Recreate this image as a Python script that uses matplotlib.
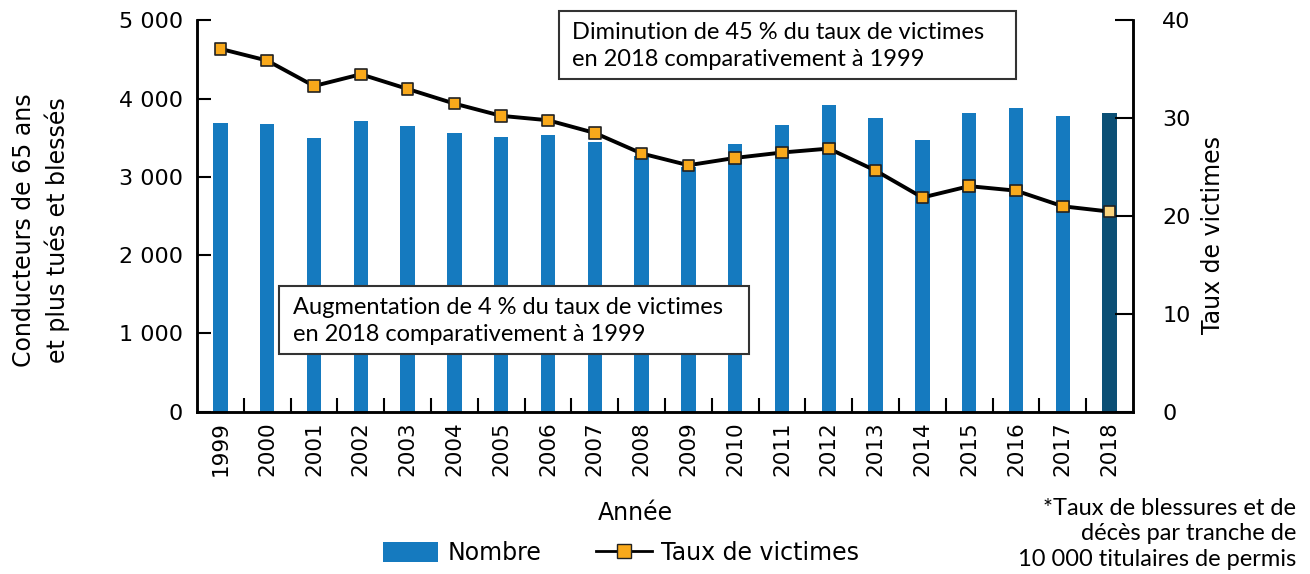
import numpy as np
import matplotlib.pyplot as plt
from matplotlib.patches import Patch, Rectangle
from matplotlib.lines import Line2D

years = ['1999', '2000', '2001', '2002', '2003', '2004', '2005', '2006', '2007', '2008',
         '2009', '2010', '2011', '2012', '2013', '2014', '2015', '2016', '2017', '2018']
nombre = [3687, 3674, 3495, 3713, 3649, 3559, 3508, 3534, 3444, 3270,
          3130, 3419, 3662, 3917, 3751, 3470, 3815, 3879, 3777, 3815]
taux = [37.1, 35.9, 33.3, 34.5, 33.0, 31.5, 30.25, 29.8, 28.5, 26.4,
        25.2, 25.95, 26.5, 26.9, 24.65, 21.9, 23.06, 22.6, 21.0, 20.46]

blue = '#157abf'
dark = '#0b4f75'
orange = '#f9a91b'
light_orange = '#f9d47e'

lab_font = 'DejaVu Sans'
note_font = 'Lato'

W, H = 1310, 574
fig = plt.figure(figsize=(W / 100, H / 100), dpi=100)
ax = fig.add_axes([0.1504, 0.2828, 0.7145, 0.6815])
ax2 = ax.twinx()

x = np.arange(len(years))
cols = [blue] * (len(years) - 1) + [dark]
ax.bar(x, nombre, width=0.31, color=cols, zorder=2)

ax2.plot(x, taux, color='black', lw=2.8, zorder=3)
mcols = [orange] * (len(years) - 1) + [light_orange]
ax2.scatter(x, taux, marker='s', s=68, c=mcols, edgecolors='#222222', linewidths=1.2, zorder=4)

ax.set_xlim(-0.5, len(years) - 0.5)
ax.set_ylim(0, 5000)
ax2.set_ylim(0, 40)

ax.set_yticks([0, 1000, 2000, 3000, 4000, 5000])
ax.set_yticklabels(['0', '1 000', '2 000', '3 000', '4 000', '5 000'], fontsize=16, family=lab_font)
ax2.set_yticks([0, 10, 20, 30, 40])
ax2.set_yticklabels(['0', '10', '20', '30', '40'], fontsize=16, family=lab_font)

ax.set_xticks(x)
ax.set_xticklabels(years, rotation=90, fontsize=15.5, family=lab_font)
ax.set_xticks(np.arange(0.5, len(years) - 1, 1), minor=True)
ax.tick_params(axis='x', which='major', length=0, pad=7)
ax.tick_params(axis='x', which='minor', direction='in', length=10, width=1.5)
ax.tick_params(axis='y', direction='in', length=10, width=1.5, pad=10)
ax2.tick_params(axis='y', direction='in', length=13, width=1.5, pad=21)

for a in (ax, ax2):
    a.spines['top'].set_visible(False)
    for s in ('left', 'right', 'bottom'):
        a.spines[s].set_linewidth(1.8)

ax.set_ylabel('Conducteurs de 65 ans\net plus tués et blessés', fontsize=17, family=lab_font,
              va='center', ha='center', linespacing=1.4)
ax.yaxis.set_label_coords((41 - 197) / 936, (411.7 - 230) / 391)
ax2.set_ylabel('Taux de victimes', fontsize=17, family=lab_font, va='center', ha='center')
ax2.yaxis.set_label_coords((1213 - 197) / 936, (411.7 - 235) / 391)
ax.set_xlabel('Année', fontsize=17, family=lab_font, va='center')
ax.xaxis.set_label_coords((635 - 197) / 936, (411.7 - 513) / 391)

# annotation boxes
for (x0, y0, x1, y1) in [(559, 11, 1016, 79), (279, 286, 749, 354)]:
    fig.add_artist(Rectangle((x0 / W, 1 - y1 / H), (x1 - x0) / W, (y1 - y0) / H,
                             transform=fig.transFigure, facecolor='white', edgecolor='#333333',
                             linewidth=1.5, zorder=5))
fig.text(572 / W, 1 - 46 / H, 'Diminution de 45 % du taux de victimes\nen 2018 comparativement à 1999',
         fontsize=17, family=note_font, va='center', ha='left', linespacing=1.3, zorder=6)
fig.text(293 / W, 1 - 321 / H, 'Augmentation de 4 % du taux de victimes\nen 2018 comparativement à 1999',
         fontsize=17, family=note_font, va='center', ha='left', linespacing=1.3, zorder=6)

fig.text(1296 / W, 1 - 534 / H, '*Taux de blessures et de\ndécès par tranche de\n10 000 titulaires de permis',
         fontsize=17, family=note_font, ha='right', va='center', linespacing=1.25)

handles = [Patch(facecolor=blue, edgecolor='none'),
           Line2D([], [], color='black', lw=2, marker='s', markersize=10,
                  markerfacecolor=orange, markeredgecolor='#222222')]
fig.legend(handles, ['Nombre', 'Taux de victimes'], loc='center', bbox_to_anchor=(621 / W, 1 - 553 / H),
           ncol=2, frameon=False, prop={'family': lab_font, 'size': 17}, handlelength=2.37,
           handleheight=0.9, columnspacing=2.3, handletextpad=0.4)

fig.savefig('out.png', dpi=100)
